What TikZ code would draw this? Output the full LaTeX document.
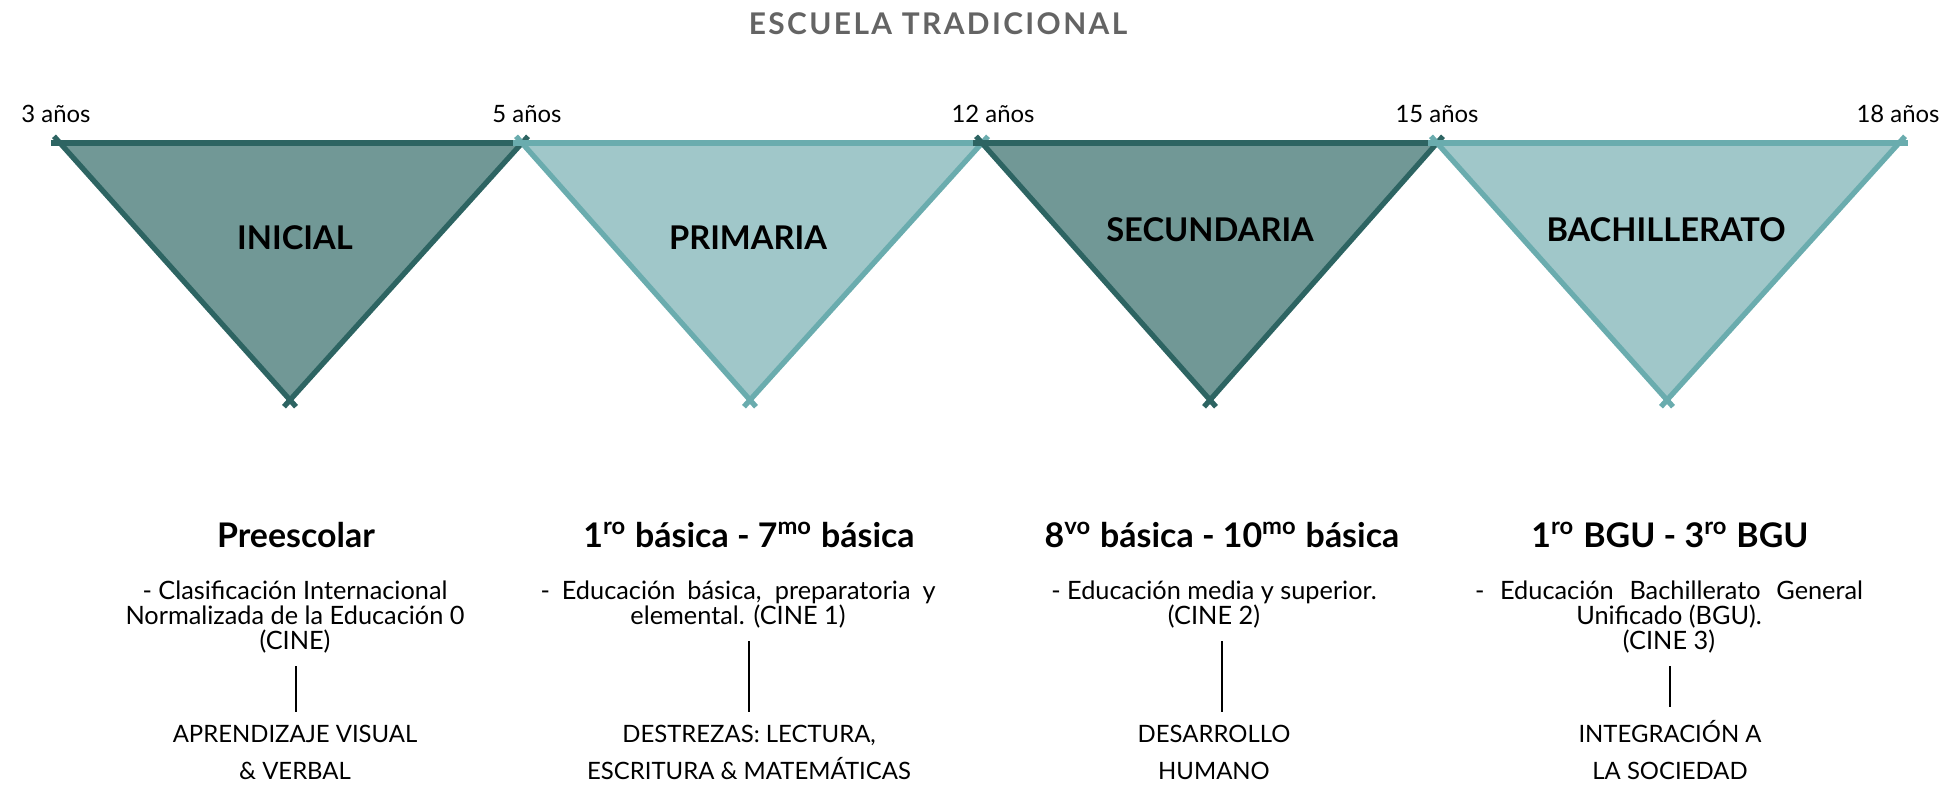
\documentclass[tikz,border=0pt]{standalone}
\usepackage{fontspec}
\setmainfont{Lato}
\newfontfamily\titlefont[LetterSpace=8]{Lato}
\usetikzlibrary{positioning}
\setlength{\lineskiplimit}{-100pt}

\definecolor{darkfill}{RGB}{113,152,150}
\definecolor{darkline}{RGB}{45,100,98}
\definecolor{lightfill}{RGB}{160,199,201}
\definecolor{lightline}{RGB}{106,172,174}
\definecolor{titlegray}{RGB}{100,100,100}

\tikzset{
    tri/.style={line width=1.5pt, shorten <=-0.09cm, shorten >=-0.09cm},
    age/.style={anchor=base, inner sep=0, font=\fontsize{6.8}{8}\selectfont},
    stage/.style={inner sep=0, font=\bfseries\fontsize{9.3}{11}\selectfont},
    level/.style={anchor=base, inner sep=0, font=\bfseries\fontsize{9.65}{11}\selectfont},
    desc/.style={anchor=base, inner sep=0, align=center, font=\fontsize{7.2}{7.1}\selectfont},
    goal/.style={anchor=base, inner sep=0, align=center, font=\fontsize{6.8}{10.5}\selectfont},
    stem/.style={black, line width=0.6pt, shorten <=0.13cm, shorten >=0.12cm}
}

\begin{document}
\begin{tikzpicture}
    \useasboundingbox (0,0) rectangle (19.46,-7.87);

    \node[anchor=base, inner sep=0, text=titlegray, font=\titlefont\bfseries\fontsize{8.5}{10}\selectfont]
        (title) at (9.38,-0.34) {ESCUELA TRADICIONAL};

    % edad
    \coordinate (v0) at (0.60,-1.43);
    \coordinate (v1) at (5.22,-1.43);
    \coordinate (v2) at (9.82,-1.43);
    \coordinate (v3) at (14.37,-1.43);
    \coordinate (v4) at (18.99,-1.43);
    \coordinate (a1) at (2.90,-4.00);
    \coordinate (a2) at (7.50,-4.00);
    \coordinate (a3) at (12.10,-4.00);
    \coordinate (a4) at (16.67,-4.00);

    \foreach \p/\q/\r/\fc/\dc in {v0/v1/a1/darkfill/darkline, v1/v2/a2/lightfill/lightline,
                                 v2/v3/a3/darkfill/darkline, v3/v4/a4/lightfill/lightline} {
        \fill[\fc] (\p) -- (\q) -- (\r) -- cycle;
        \draw[tri, \dc] (\p) -- (\q);
        \draw[tri, \dc] (\q) -- (\r);
        \draw[tri, \dc] (\r) -- (\p);
    }

    \node[age] (y3) at (0.56,-1.22) {3 años};
    \node[age] (y5) at (5.27,-1.22) {5 años};
    \node[age] (y12) at (9.93,-1.22) {12 años};
    \node[age] (y15) at (14.37,-1.22) {15 años};
    \node[age] (y18) at (18.98,-1.22) {18 años};

    \node[stage] (inicial) at (2.95,-2.38) {INICIAL};
    \node[stage] (primaria) at (7.48,-2.38) {PRIMARIA};
    \node[stage] (secundaria) at (12.10,-2.30) {SECUNDARIA};
    \node[stage] (bachillerato) at (16.66,-2.30) {BACHILLERATO};

    % niveles
    \node[level] (n1) at (2.96,-5.47) {Preescolar};
    \node[level] (n2) at (7.49,-5.47) {1\textsuperscript{ro} básica - 7\textsuperscript{mo} básica};
    \node[level] (n3) at (12.22,-5.47) {8\textsuperscript{vo} básica - 10\textsuperscript{mo} básica};
    \node[level] (n4) at (16.70,-5.47) {1\textsuperscript{ro} BGU - 3\textsuperscript{ro} BGU};

    % base = ultima linea
    \node[desc] (d1) at (2.95,-6.49) {- Clasificación Internacional\\ Normalizada de la Educación 0\\ (CINE)};
    \node[desc] (d2) at (7.38,-6.24) {\makebox[3.95cm][s]{- Educación básica, preparatoria y}\\ elemental. (CINE 1)};
    \node[desc] (d3) at (12.14,-6.24) {- Educación media y superior.\\ (CINE 2)};
    \node[desc] (d4) at (16.69,-6.49) {\makebox[3.88cm][s]{- Educación Bachillerato General}\\ Unificado (BGU).\\ (CINE 3)};

    \node[goal] (b1) at (2.95,-7.79) {APRENDIZAJE VISUAL\\ \& VERBAL};
    \node[goal] (b2) at (7.49,-7.79) {DESTREZAS: LECTURA,\\ ESCRITURA \& MATEMÁTICAS};
    \node[goal] (b3) at (12.14,-7.79) {DESARROLLO\\ HUMANO};
    \node[goal] (b4) at (16.70,-7.79) {INTEGRACIÓN A\\ LA SOCIEDAD};

    \foreach \n in {1,...,4}
        \draw[stem] (d\n.south -| n\n) -- (b\n.north -| n\n);
\end{tikzpicture}
\end{document}
